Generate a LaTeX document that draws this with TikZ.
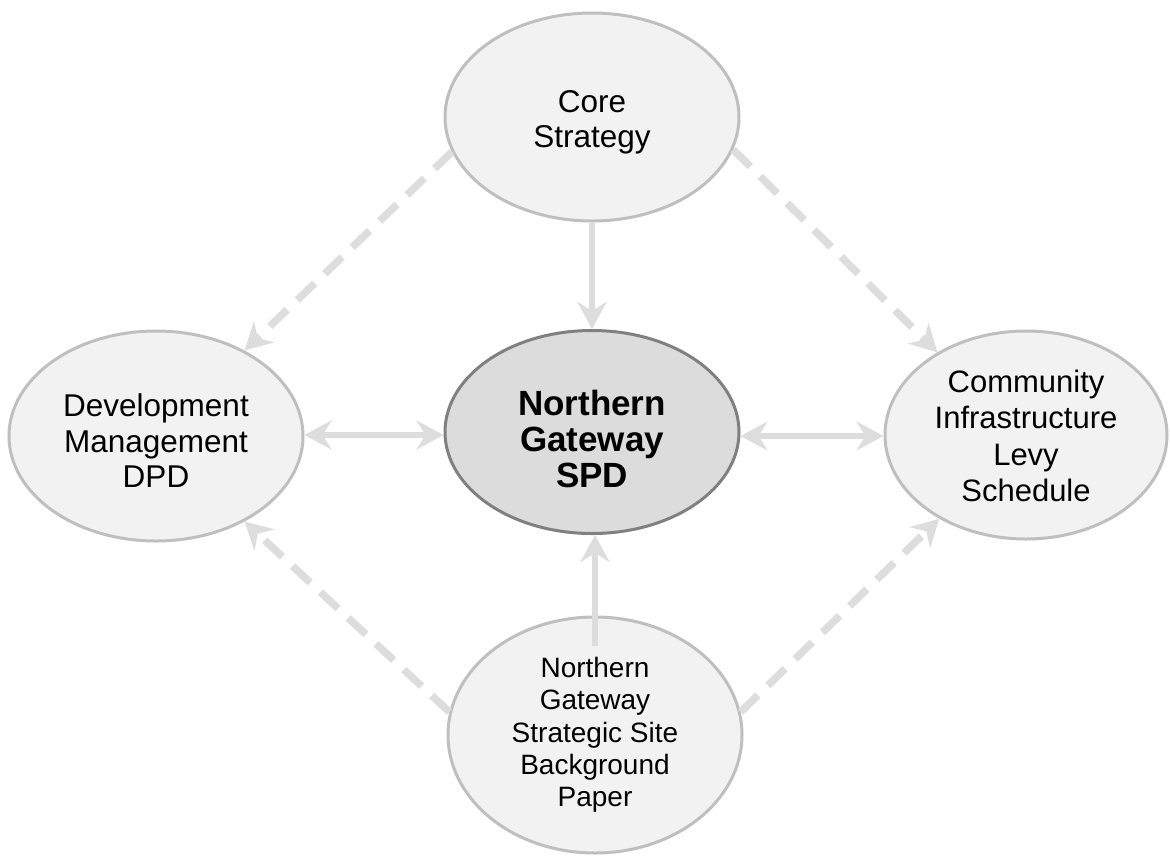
\documentclass[tikz,border=0pt]{standalone}
\usepackage{fontspec}
\setmainfont{Liberation Sans}
\usetikzlibrary{arrows.meta,shapes.geometric}
\definecolor{ellfill}{HTML}{F2F2F2}
\definecolor{ellline}{HTML}{BFBFBF}
\definecolor{midfill}{HTML}{DCDCDC}
\definecolor{midline}{HTML}{808080}
\definecolor{arrcol}{HTML}{DDDDDD}
\tikzset{
  bubble/.style={ellipse, draw=ellline, fill=ellfill, line width=3pt, inner sep=0pt},
  midbubble/.style={bubble, draw=midline, fill=midfill},
  txt/.style={align=center, text=black, inner sep=0pt},
  tip/.style={Stealth[length=27pt,width=29pt,inset=9pt]},
  solidarrow/.style={draw=arrcol, line width=6pt, -{Stealth[length=27pt,width=29pt,inset=9pt]}},
  botharrow/.style={draw=arrcol, line width=6pt, {Stealth[length=27pt,width=29pt,inset=9pt]}-{Stealth[length=27pt,width=29pt,inset=9pt]}},
  dasharrow/.style={draw=arrcol, line width=7.5pt, dash pattern=on 24pt off 14pt, -{Stealth[length=27pt,width=29pt,inset=9pt]}},
}
\begin{document}
\begin{tikzpicture}[x=1pt,y=-1pt]
\useasboundingbox (0,0) rectangle (1170,855);
\node[bubble, minimum width=294pt, minimum height=208pt,
  label={[txt, yshift=-5.5pt, font=\fontsize{31.5}{35.5}\selectfont]center:Core\\Strategy}] (core) at (592,117) {};
\node[bubble, minimum width=294pt, minimum height=210pt,
  label={[txt, yshift=-5pt, font=\fontsize{31.5}{35.5}\selectfont]center:Development\\Management\\DPD}] (dpd) at (156,436) {};
\node[midbubble, minimum width=294pt, minimum height=203pt,
  label={[txt, yshift=-7pt, font=\bfseries\fontsize{35}{36}\selectfont]center:Northern\\Gateway\\SPD}] (spd) at (592,432) {};
\node[bubble, minimum width=282pt, minimum height=208pt,
  label={[txt, yshift=-1pt, font=\fontsize{31}{36.3}\selectfont]center:Community\\Infrastructure\\Levy\\Schedule}] (cil) at (1026,435) {};
\node[bubble, minimum width=294pt, minimum height=236pt,
  label={[txt, font=\fontsize{28}{32.3}\selectfont]center:Northern\\Gateway\\Strategic Site\\Background\\Paper}] (bot) at (595,735) {};
\draw[solidarrow] (core.south) -- (spd.north);
\draw[solidarrow] ([yshift=-30pt]bot.north) -- (bot.north |- spd.south);
\draw[botharrow] ([yshift=-3pt]spd.west) -- ([yshift=-3pt]spd.west -| dpd.east);
\draw[botharrow] ([yshift=-4pt]spd.east) -- ([yshift=-4pt]spd.east -| cil.west);
\draw[dasharrow] (core.194) -- (dpd.44);
\draw[dasharrow] (core.-13) -- (cil.137);
\draw[dasharrow] (bot.171) -- (dpd.316);
\draw[dasharrow] (bot.9) -- (cil.224);
\end{tikzpicture}
\end{document}
